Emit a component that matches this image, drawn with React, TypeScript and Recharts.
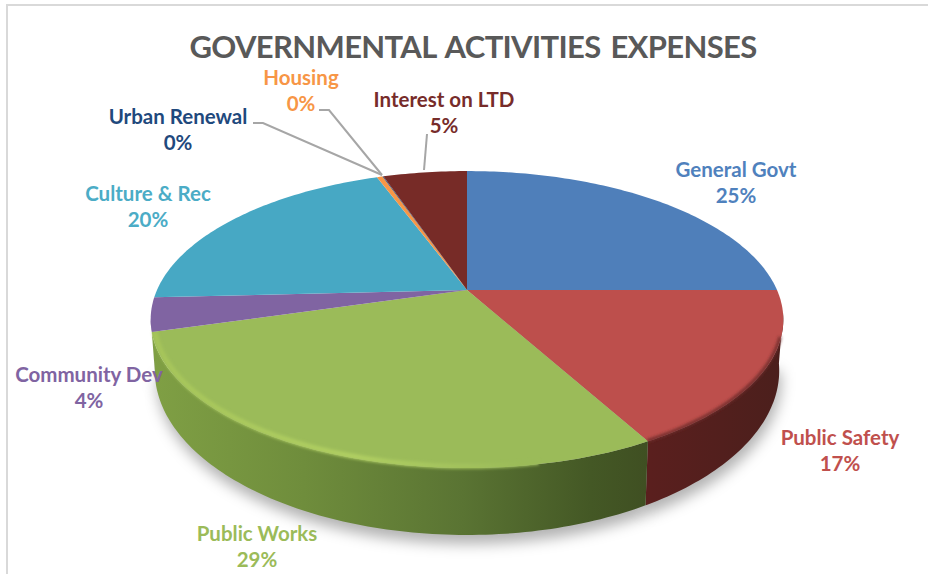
import { Pie, PieChart } from "recharts"

const names = [
  "General Govt",
  "Public Safety",
  "Public Works",
  "Community Dev",
  "Culture & Rec",
  "Housing",
  "Urban Renewal",
  "Interest on LTD",
]
const shares = [25, 17, 28.5, 3.7, 20.2, 0.35, 0.05, 5.2]
const sliceColors = ["#4f7fba", "#bd4f4c", "#9bbb59", "#8064a2", "#47a8c4", "#f79646", "#1f497d", "#772b27"]
const labelColors = ["#4f81bd", "#c0504d", "#9bbb59", "#8064a2", "#4bacc6", "#f79646", "#1f497d", "#772c2a"]

const pieData = names.map((name, i) => ({ name, value: shares[i], fill: sliceColors[i] }))

// label centres, in page pixels
const labelSpots = [
  [736, 170],
  [840, 438],
  [257, 534],
  [89, 375],
  [148, 194],
  [301, 78],
  [178, 117],
  [444, 100],
]
const leaders: Record<string, string> = {
  "Urban Renewal": "253,123 263,123 382,175",
  Housing: "319,110 329,110 382,175",
  "Interest on LTD": "427,134 424,170",
}

// the pie is a flat disc seen in perspective
const TILT = 0.46
const PERSP = 0.199
const WALL = 48
const WALL_FROM = 99
const WALL_TO = 259

function rim(cx: number, cy: number, r: number, theta: number) {
  const t = (theta * Math.PI) / 180
  const u = Math.sin(t)
  const v = -Math.cos(t)
  const s = 1 / (1 - PERSP * v)
  return { x: cx + r * u * s, y: cy + r * TILT * v * s, s }
}

function floor(cx: number, cy: number, r: number, theta: number) {
  const p = rim(cx, cy, r, theta)
  return { x: cx + (p.x - cx) * 0.987, y: p.y + WALL * Math.pow(p.s, 1.5) }
}

function sweep(a: number, b: number) {
  const out: number[] = []
  for (let t = a; t < b; t += 1) out.push(t)
  out.push(b)
  return out
}

const pts = (list: { x: number; y: number }[]) => list.map((p) => `${p.x},${p.y}`).join(" L")

function Slice(props: any) {
  const { cx, cy, outerRadius, startAngle, endAngle, name, fill } = props
  const from = 90 - startAngle
  const to = 90 - endAngle
  const top = sweep(from, to).map((t) => rim(cx, cy, outerRadius, t))
  const a = Math.max(from, WALL_FROM)
  const b = Math.min(to, WALL_TO)
  let wall = null
  if (b > a) {
    const upper = sweep(a, b).map((t) => rim(cx, cy, outerRadius, t))
    const lower = sweep(a, b).map((t) => floor(cx, cy, outerRadius, t)).reverse()
    wall = (
      <path
        d={`M${pts(upper)} L${pts(lower)} Z`}
        fill={name === "Public Safety" ? "url(#wallRed)" : name === "Public Works" ? "url(#wallGreen)" : fill}
      />
    )
  }
  return (
    <g>
      {wall}
      <path d={`M${cx},${cy} L${pts(top)} Z`} fill={fill} />
      {name === "Public Works" && (
        <path
          d={`M${pts(sweep(from + 18, to).map((t) => rim(cx, cy, outerRadius - 3, t)))}`}
          fill="none"
          stroke="url(#rimGreen)"
          strokeWidth={5}
          filter="url(#soft)"
        />
      )}
      {name === "Public Safety" && (
        <path
          d={`M${pts(sweep(Math.max(from, 108), to).map((t) => rim(cx, cy, outerRadius - 1, t)))}`}
          fill="none"
          stroke="#6e2b29"
          strokeWidth={3}
          filter="url(#soft)"
        />
      )}
    </g>
  )
}

function Shadow(props: any) {
  const { cx, cy, outerRadius, startAngle, endAngle } = props
  const a = Math.max(90 - startAngle, WALL_FROM)
  const b = Math.min(90 - endAngle, WALL_TO)
  if (b <= a) return <g />
  const edge = sweep(a, b).map((t) => {
    const p = floor(cx, cy, outerRadius, t)
    return { x: p.x + 2, y: p.y + 9 }
  })
  return <path d={`M${cx},${cy} L${pts(edge)} Z`} fill="#000" fillOpacity={0.3} filter="url(#shade)" />
}

function SliceLabel(props: any) {
  const i = names.indexOf(props.name)
  const [x, y] = labelSpots[i]
  const line = leaders[props.name]
  return (
    <g>
      {line && <polyline points={line} fill="none" stroke="#a6a6a6" strokeWidth={2} />}
      <text x={x} y={y + 7} textAnchor="middle" fill={labelColors[i]} fontSize={20.5} fontWeight={700} fontFamily="Lato">
        {names[i]}
      </text>
      <text x={x} y={y + 33} textAnchor="middle" fill={labelColors[i]} fontSize={20.5} fontWeight={700} fontFamily="Lato">
        {Math.round(shares[i])}%
      </text>
    </g>
  )
}

export default function App() {
  return (
    <div style={{ position: "absolute", left: 0, top: 0, width: 928, height: 574, background: "#fff", overflow: "hidden" }}>
      <div style={{ position: "absolute", left: 6, top: 4, width: 922, height: 570, borderLeft: "2px solid #d9d9d9", borderTop: "2px solid #d9d9d9" }} />
      <div
        style={{
          position: "absolute",
          left: 0,
          top: 24,
          width: 946,
          textAlign: "center",
          fontFamily: "Lato",
          fontWeight: 700,
          fontSize: 31,
          lineHeight: "44px",
          color: "#595959",
          letterSpacing: -0.65,
          wordSpacing: 3,
        }}
      >
        GOVERNMENTAL ACTIVITIES EXPENSES
      </div>
      <PieChart width={928} height={574} style={{ position: "absolute", left: 0, top: 0 }} margin={{ top: 0, right: 0, bottom: 0, left: 0 }}>
        <defs>
          <linearGradient id="wallGreen" gradientUnits="userSpaceOnUse" x1="155" y1="0" x2="650" y2="0">
            <stop offset="0%" stopColor="#7f9f44" />
            <stop offset="30%" stopColor="#6f8d3c" />
            <stop offset="62%" stopColor="#5a7433" />
            <stop offset="88%" stopColor="#445825" />
            <stop offset="100%" stopColor="#3f4f22" />
          </linearGradient>
          <linearGradient id="wallRed" gradientUnits="userSpaceOnUse" x1="650" y1="0" x2="784" y2="0">
            <stop offset="0%" stopColor="#5a1f1e" />
            <stop offset="100%" stopColor="#4b1f1c" />
          </linearGradient>
          <linearGradient id="rimGreen" gradientUnits="userSpaceOnUse" x1="155" y1="0" x2="520" y2="0">
            <stop offset="0%" stopColor="#a6c55a" />
            <stop offset="55%" stopColor="#b0cf62" />
            <stop offset="100%" stopColor="#9bbb59" />
          </linearGradient>
          <filter id="soft" x="-10%" y="-10%" width="120%" height="120%">
            <feGaussianBlur stdDeviation="1.5" />
          </filter>
          <filter id="shade" x="-20%" y="-20%" width="140%" height="140%">
            <feGaussianBlur stdDeviation="7" />
          </filter>
        </defs>
        <Pie
          data={pieData}
          dataKey="value"
          nameKey="name"
          cx={467}
          cy={290}
          outerRadius={310}
          startAngle={90}
          endAngle={-270}
          stroke="none"
          shape={Shadow}
          isAnimationActive={false}
        />
        <Pie
          data={pieData}
          dataKey="value"
          nameKey="name"
          cx={467}
          cy={290}
          outerRadius={310}
          startAngle={90}
          endAngle={-270}
          stroke="none"
          shape={Slice}
          label={SliceLabel}
          labelLine={false}
          isAnimationActive={false}
        />
      </PieChart>
    </div>
  )
}
